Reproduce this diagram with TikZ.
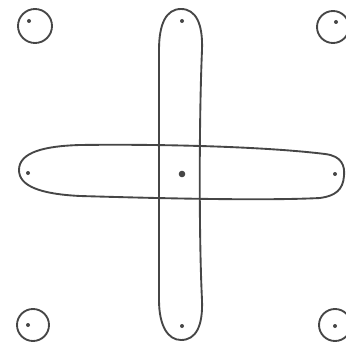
\documentclass[tikz,border=0pt]{standalone}
\usepackage{xcolor}
\usepackage{tikz}
\usetikzlibrary{calc}
\definecolor{pencil}{RGB}{70,70,70}
\tikzset{
  ringline/.style={draw=pencil,line width=1.6pt},
  loopline/.style={draw=pencil,line width=1.6pt,line join=round},
  pinsmall/.style={fill=pencil},
  pinbig/.style={fill=pencil}
}

\begin{document}
\begin{tikzpicture}[x=0.03cm,y=-0.03cm]
  \useasboundingbox (0,0) rectangle (346,342);
  % corner rings
  \coordinate (tl) at (35,26);
  \coordinate (tr) at (333,27);
  \coordinate (bl) at (33,325);
  \coordinate (br) at (335,325);
  \draw[ringline] (tl) circle (17);
  \draw[ringline] (tr) circle (16);
  \draw[ringline] (bl) circle (16);
  \draw[ringline] (br) circle (16);
  \fill[pinsmall] (29,21) circle (2);
  \fill[pinsmall] (336,22) circle (2);
  \fill[pinsmall] (28,325) circle (2);
  \fill[pinsmall] (335,326) circle (2);
  % vertical loop
  \draw[loopline] (181,9) .. controls (166,9) and (159,24) .. (159,50)
    -- (159,300) .. controls (159,326) and (168,340) .. (181,340)
    .. controls (196,340) and (203,326) .. (202,300)
    .. controls (199,240) and (199,120) .. (202,50)
    .. controls (203,24) and (196,9) .. (181,9);
  \fill[pinsmall] (182,21) circle (2);
  \fill[pinsmall] (182,326) circle (2);
  % horizontal loop
  \draw[loopline] (19,170) .. controls (19,152) and (45,146) .. (80,145)
    .. controls (150,144) and (260,146) .. (325,154)
    .. controls (342,156) and (345,166) .. (344,176)
    .. controls (343,190) and (335,196) .. (320,198)
    .. controls (260,201) and (150,198) .. (80,196)
    .. controls (40,194) and (19,186) .. (19,170);
  \fill[pinsmall] (28,173) circle (2);
  \fill[pinsmall] (335,174) circle (2);
  % centre
  \coordinate (mid) at (182,174);
  \fill[pinbig] (mid) circle (3.3);
\end{tikzpicture}
\end{document}
